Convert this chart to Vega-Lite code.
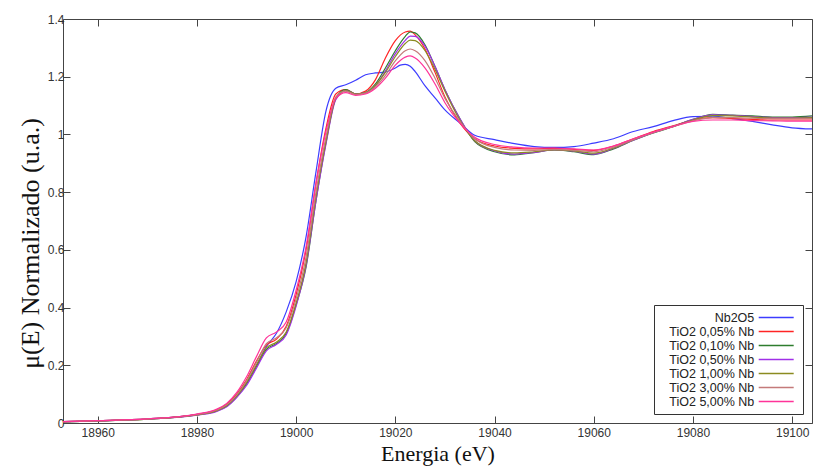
{
  "$schema": "https://vega.github.io/schema/vega-lite/v6.json",
  "width": 749,
  "height": 404,
  "autosize": "none",
  "padding": {"left": 63, "top": 19, "right": 2, "bottom": 44},
  "background": "white",
  "config": {
    "view": {"stroke": "#444", "strokeWidth": 1},
    "axis": {
      "domain": false,
      "grid": false,
      "tickColor": "#444",
      "tickSize": -7,
      "labelFont": "Liberation Sans",
      "labelFontSize": 12,
      "labelColor": "#333",
      "titleFont": "Liberation Serif",
      "titleFontSize": 22,
      "titleFontWeight": "normal",
      "titleColor": "#111"
    }
  },
  "data": {"values": [
    {"s":"Nb2O5","E":18953,"mu":0.005},{"s":"Nb2O5","E":18960,"mu":0.008},{"s":"Nb2O5","E":18970,"mu":0.014},{"s":"Nb2O5","E":18980,"mu":0.03},{"s":"Nb2O5","E":18984,"mu":0.045},{"s":"Nb2O5","E":18986,"mu":0.063},{"s":"Nb2O5","E":18988,"mu":0.095},{"s":"Nb2O5","E":18990,"mu":0.14},{"s":"Nb2O5","E":18992,"mu":0.2},{"s":"Nb2O5","E":18994,"mu":0.265},{"s":"Nb2O5","E":18996,"mu":0.31},{"s":"Nb2O5","E":18998,"mu":0.385},{"s":"Nb2O5","E":19000,"mu":0.49},{"s":"Nb2O5","E":19002,"mu":0.645},{"s":"Nb2O5","E":19004,"mu":0.87},{"s":"Nb2O5","E":19006,"mu":1.08},{"s":"Nb2O5","E":19008,"mu":1.16},{"s":"Nb2O5","E":19010,"mu":1.172},{"s":"Nb2O5","E":19012,"mu":1.188},{"s":"Nb2O5","E":19014,"mu":1.207},{"s":"Nb2O5","E":19016,"mu":1.213},{"s":"Nb2O5","E":19018,"mu":1.216},{"s":"Nb2O5","E":19020,"mu":1.23},{"s":"Nb2O5","E":19021,"mu":1.24},{"s":"Nb2O5","E":19022,"mu":1.243},{"s":"Nb2O5","E":19023,"mu":1.236},{"s":"Nb2O5","E":19024,"mu":1.218},{"s":"Nb2O5","E":19026,"mu":1.168},{"s":"Nb2O5","E":19028,"mu":1.127},{"s":"Nb2O5","E":19030,"mu":1.085},{"s":"Nb2O5","E":19033,"mu":1.04},{"s":"Nb2O5","E":19036,"mu":0.997},{"s":"Nb2O5","E":19040,"mu":0.982},{"s":"Nb2O5","E":19044,"mu":0.968},{"s":"Nb2O5","E":19048,"mu":0.958},{"s":"Nb2O5","E":19052,"mu":0.955},{"s":"Nb2O5","E":19056,"mu":0.958},{"s":"Nb2O5","E":19060,"mu":0.97},{"s":"Nb2O5","E":19064,"mu":0.985},{"s":"Nb2O5","E":19068,"mu":1.01},{"s":"Nb2O5","E":19072,"mu":1.027},{"s":"Nb2O5","E":19076,"mu":1.048},{"s":"Nb2O5","E":19080,"mu":1.062},{"s":"Nb2O5","E":19084,"mu":1.063},{"s":"Nb2O5","E":19088,"mu":1.055},{"s":"Nb2O5","E":19092,"mu":1.045},{"s":"Nb2O5","E":19096,"mu":1.033},{"s":"Nb2O5","E":19100,"mu":1.023},{"s":"Nb2O5","E":19104,"mu":1.019},

    {"s":"TiO2 0,05% Nb","E":18953,"mu":0.005},{"s":"TiO2 0,05% Nb","E":18960,"mu":0.008},{"s":"TiO2 0,05% Nb","E":18970,"mu":0.014},{"s":"TiO2 0,05% Nb","E":18980,"mu":0.03},{"s":"TiO2 0,05% Nb","E":18984,"mu":0.046},{"s":"TiO2 0,05% Nb","E":18986,"mu":0.065},{"s":"TiO2 0,05% Nb","E":18988,"mu":0.1},{"s":"TiO2 0,05% Nb","E":18990,"mu":0.15},{"s":"TiO2 0,05% Nb","E":18992,"mu":0.215},{"s":"TiO2 0,05% Nb","E":18994,"mu":0.27},{"s":"TiO2 0,05% Nb","E":18996,"mu":0.29},{"s":"TiO2 0,05% Nb","E":18998,"mu":0.335},{"s":"TiO2 0,05% Nb","E":19000,"mu":0.445},{"s":"TiO2 0,05% Nb","E":19002,"mu":0.6},{"s":"TiO2 0,05% Nb","E":19004,"mu":0.83},{"s":"TiO2 0,05% Nb","E":19006,"mu":1.02},{"s":"TiO2 0,05% Nb","E":19008,"mu":1.14},{"s":"TiO2 0,05% Nb","E":19010,"mu":1.155},{"s":"TiO2 0,05% Nb","E":19012,"mu":1.14},{"s":"TiO2 0,05% Nb","E":19014,"mu":1.15},{"s":"TiO2 0,05% Nb","E":19016,"mu":1.19},{"s":"TiO2 0,05% Nb","E":19018,"mu":1.265},{"s":"TiO2 0,05% Nb","E":19020,"mu":1.325},{"s":"TiO2 0,05% Nb","E":19022,"mu":1.355},{"s":"TiO2 0,05% Nb","E":19023,"mu":1.358},{"s":"TiO2 0,05% Nb","E":19024,"mu":1.345},{"s":"TiO2 0,05% Nb","E":19026,"mu":1.295},{"s":"TiO2 0,05% Nb","E":19028,"mu":1.215},{"s":"TiO2 0,05% Nb","E":19030,"mu":1.13},{"s":"TiO2 0,05% Nb","E":19033,"mu":1.04},{"s":"TiO2 0,05% Nb","E":19036,"mu":0.985},{"s":"TiO2 0,05% Nb","E":19040,"mu":0.96},{"s":"TiO2 0,05% Nb","E":19044,"mu":0.952},{"s":"TiO2 0,05% Nb","E":19048,"mu":0.95},{"s":"TiO2 0,05% Nb","E":19052,"mu":0.952},{"s":"TiO2 0,05% Nb","E":19056,"mu":0.948},{"s":"TiO2 0,05% Nb","E":19060,"mu":0.945},{"s":"TiO2 0,05% Nb","E":19064,"mu":0.96},{"s":"TiO2 0,05% Nb","E":19068,"mu":0.985},{"s":"TiO2 0,05% Nb","E":19072,"mu":1.01},{"s":"TiO2 0,05% Nb","E":19076,"mu":1.03},{"s":"TiO2 0,05% Nb","E":19080,"mu":1.05},{"s":"TiO2 0,05% Nb","E":19084,"mu":1.058},{"s":"TiO2 0,05% Nb","E":19088,"mu":1.055},{"s":"TiO2 0,05% Nb","E":19092,"mu":1.052},{"s":"TiO2 0,05% Nb","E":19096,"mu":1.05},{"s":"TiO2 0,05% Nb","E":19100,"mu":1.05},{"s":"TiO2 0,05% Nb","E":19104,"mu":1.05},

    {"s":"TiO2 0,10% Nb","E":18953,"mu":0.004},{"s":"TiO2 0,10% Nb","E":18960,"mu":0.007},{"s":"TiO2 0,10% Nb","E":18970,"mu":0.013},{"s":"TiO2 0,10% Nb","E":18980,"mu":0.028},{"s":"TiO2 0,10% Nb","E":18984,"mu":0.042},{"s":"TiO2 0,10% Nb","E":18986,"mu":0.058},{"s":"TiO2 0,10% Nb","E":18988,"mu":0.09},{"s":"TiO2 0,10% Nb","E":18990,"mu":0.135},{"s":"TiO2 0,10% Nb","E":18992,"mu":0.195},{"s":"TiO2 0,10% Nb","E":18994,"mu":0.255},{"s":"TiO2 0,10% Nb","E":18996,"mu":0.275},{"s":"TiO2 0,10% Nb","E":18998,"mu":0.31},{"s":"TiO2 0,10% Nb","E":19000,"mu":0.41},{"s":"TiO2 0,10% Nb","E":19002,"mu":0.54},{"s":"TiO2 0,10% Nb","E":19004,"mu":0.77},{"s":"TiO2 0,10% Nb","E":19006,"mu":0.97},{"s":"TiO2 0,10% Nb","E":19008,"mu":1.125},{"s":"TiO2 0,10% Nb","E":19010,"mu":1.155},{"s":"TiO2 0,10% Nb","E":19012,"mu":1.14},{"s":"TiO2 0,10% Nb","E":19014,"mu":1.145},{"s":"TiO2 0,10% Nb","E":19016,"mu":1.175},{"s":"TiO2 0,10% Nb","E":19018,"mu":1.23},{"s":"TiO2 0,10% Nb","E":19020,"mu":1.29},{"s":"TiO2 0,10% Nb","E":19022,"mu":1.34},{"s":"TiO2 0,10% Nb","E":19023,"mu":1.355},{"s":"TiO2 0,10% Nb","E":19024,"mu":1.352},{"s":"TiO2 0,10% Nb","E":19026,"mu":1.31},{"s":"TiO2 0,10% Nb","E":19028,"mu":1.235},{"s":"TiO2 0,10% Nb","E":19030,"mu":1.155},{"s":"TiO2 0,10% Nb","E":19033,"mu":1.055},{"s":"TiO2 0,10% Nb","E":19036,"mu":0.975},{"s":"TiO2 0,10% Nb","E":19040,"mu":0.94},{"s":"TiO2 0,10% Nb","E":19044,"mu":0.929},{"s":"TiO2 0,10% Nb","E":19048,"mu":0.937},{"s":"TiO2 0,10% Nb","E":19052,"mu":0.946},{"s":"TiO2 0,10% Nb","E":19056,"mu":0.94},{"s":"TiO2 0,10% Nb","E":19060,"mu":0.93},{"s":"TiO2 0,10% Nb","E":19064,"mu":0.95},{"s":"TiO2 0,10% Nb","E":19068,"mu":0.98},{"s":"TiO2 0,10% Nb","E":19072,"mu":1.005},{"s":"TiO2 0,10% Nb","E":19076,"mu":1.027},{"s":"TiO2 0,10% Nb","E":19080,"mu":1.052},{"s":"TiO2 0,10% Nb","E":19084,"mu":1.07},{"s":"TiO2 0,10% Nb","E":19088,"mu":1.067},{"s":"TiO2 0,10% Nb","E":19092,"mu":1.064},{"s":"TiO2 0,10% Nb","E":19096,"mu":1.06},{"s":"TiO2 0,10% Nb","E":19100,"mu":1.06},{"s":"TiO2 0,10% Nb","E":19104,"mu":1.064},

    {"s":"TiO2 0,50% Nb","E":18953,"mu":0.004},{"s":"TiO2 0,50% Nb","E":18960,"mu":0.007},{"s":"TiO2 0,50% Nb","E":18970,"mu":0.013},{"s":"TiO2 0,50% Nb","E":18980,"mu":0.027},{"s":"TiO2 0,50% Nb","E":18984,"mu":0.04},{"s":"TiO2 0,50% Nb","E":18986,"mu":0.056},{"s":"TiO2 0,50% Nb","E":18988,"mu":0.088},{"s":"TiO2 0,50% Nb","E":18990,"mu":0.13},{"s":"TiO2 0,50% Nb","E":18992,"mu":0.19},{"s":"TiO2 0,50% Nb","E":18994,"mu":0.25},{"s":"TiO2 0,50% Nb","E":18996,"mu":0.272},{"s":"TiO2 0,50% Nb","E":18998,"mu":0.305},{"s":"TiO2 0,50% Nb","E":19000,"mu":0.405},{"s":"TiO2 0,50% Nb","E":19002,"mu":0.545},{"s":"TiO2 0,50% Nb","E":19004,"mu":0.77},{"s":"TiO2 0,50% Nb","E":19006,"mu":0.965},{"s":"TiO2 0,50% Nb","E":19008,"mu":1.12},{"s":"TiO2 0,50% Nb","E":19010,"mu":1.152},{"s":"TiO2 0,50% Nb","E":19012,"mu":1.14},{"s":"TiO2 0,50% Nb","E":19014,"mu":1.145},{"s":"TiO2 0,50% Nb","E":19016,"mu":1.17},{"s":"TiO2 0,50% Nb","E":19018,"mu":1.22},{"s":"TiO2 0,50% Nb","E":19020,"mu":1.28},{"s":"TiO2 0,50% Nb","E":19022,"mu":1.326},{"s":"TiO2 0,50% Nb","E":19023,"mu":1.341},{"s":"TiO2 0,50% Nb","E":19024,"mu":1.34},{"s":"TiO2 0,50% Nb","E":19026,"mu":1.305},{"s":"TiO2 0,50% Nb","E":19028,"mu":1.235},{"s":"TiO2 0,50% Nb","E":19030,"mu":1.155},{"s":"TiO2 0,50% Nb","E":19033,"mu":1.055},{"s":"TiO2 0,50% Nb","E":19036,"mu":0.978},{"s":"TiO2 0,50% Nb","E":19040,"mu":0.943},{"s":"TiO2 0,50% Nb","E":19044,"mu":0.932},{"s":"TiO2 0,50% Nb","E":19048,"mu":0.938},{"s":"TiO2 0,50% Nb","E":19052,"mu":0.946},{"s":"TiO2 0,50% Nb","E":19056,"mu":0.942},{"s":"TiO2 0,50% Nb","E":19060,"mu":0.932},{"s":"TiO2 0,50% Nb","E":19064,"mu":0.952},{"s":"TiO2 0,50% Nb","E":19068,"mu":0.98},{"s":"TiO2 0,50% Nb","E":19072,"mu":1.006},{"s":"TiO2 0,50% Nb","E":19076,"mu":1.028},{"s":"TiO2 0,50% Nb","E":19080,"mu":1.052},{"s":"TiO2 0,50% Nb","E":19084,"mu":1.068},{"s":"TiO2 0,50% Nb","E":19088,"mu":1.066},{"s":"TiO2 0,50% Nb","E":19092,"mu":1.062},{"s":"TiO2 0,50% Nb","E":19096,"mu":1.058},{"s":"TiO2 0,50% Nb","E":19100,"mu":1.058},{"s":"TiO2 0,50% Nb","E":19104,"mu":1.06},

    {"s":"TiO2 1,00% Nb","E":18953,"mu":0.004},{"s":"TiO2 1,00% Nb","E":18960,"mu":0.007},{"s":"TiO2 1,00% Nb","E":18970,"mu":0.013},{"s":"TiO2 1,00% Nb","E":18980,"mu":0.028},{"s":"TiO2 1,00% Nb","E":18984,"mu":0.043},{"s":"TiO2 1,00% Nb","E":18986,"mu":0.06},{"s":"TiO2 1,00% Nb","E":18988,"mu":0.093},{"s":"TiO2 1,00% Nb","E":18990,"mu":0.14},{"s":"TiO2 1,00% Nb","E":18992,"mu":0.2},{"s":"TiO2 1,00% Nb","E":18994,"mu":0.26},{"s":"TiO2 1,00% Nb","E":18996,"mu":0.28},{"s":"TiO2 1,00% Nb","E":18998,"mu":0.315},{"s":"TiO2 1,00% Nb","E":19000,"mu":0.415},{"s":"TiO2 1,00% Nb","E":19002,"mu":0.555},{"s":"TiO2 1,00% Nb","E":19004,"mu":0.785},{"s":"TiO2 1,00% Nb","E":19006,"mu":0.975},{"s":"TiO2 1,00% Nb","E":19008,"mu":1.125},{"s":"TiO2 1,00% Nb","E":19010,"mu":1.152},{"s":"TiO2 1,00% Nb","E":19012,"mu":1.14},{"s":"TiO2 1,00% Nb","E":19014,"mu":1.145},{"s":"TiO2 1,00% Nb","E":19016,"mu":1.17},{"s":"TiO2 1,00% Nb","E":19018,"mu":1.215},{"s":"TiO2 1,00% Nb","E":19020,"mu":1.27},{"s":"TiO2 1,00% Nb","E":19022,"mu":1.315},{"s":"TiO2 1,00% Nb","E":19023,"mu":1.327},{"s":"TiO2 1,00% Nb","E":19024,"mu":1.325},{"s":"TiO2 1,00% Nb","E":19026,"mu":1.29},{"s":"TiO2 1,00% Nb","E":19028,"mu":1.225},{"s":"TiO2 1,00% Nb","E":19030,"mu":1.15},{"s":"TiO2 1,00% Nb","E":19033,"mu":1.05},{"s":"TiO2 1,00% Nb","E":19036,"mu":0.978},{"s":"TiO2 1,00% Nb","E":19040,"mu":0.945},{"s":"TiO2 1,00% Nb","E":19044,"mu":0.936},{"s":"TiO2 1,00% Nb","E":19048,"mu":0.94},{"s":"TiO2 1,00% Nb","E":19052,"mu":0.946},{"s":"TiO2 1,00% Nb","E":19056,"mu":0.943},{"s":"TiO2 1,00% Nb","E":19060,"mu":0.935},{"s":"TiO2 1,00% Nb","E":19064,"mu":0.953},{"s":"TiO2 1,00% Nb","E":19068,"mu":0.982},{"s":"TiO2 1,00% Nb","E":19072,"mu":1.007},{"s":"TiO2 1,00% Nb","E":19076,"mu":1.028},{"s":"TiO2 1,00% Nb","E":19080,"mu":1.05},{"s":"TiO2 1,00% Nb","E":19084,"mu":1.065},{"s":"TiO2 1,00% Nb","E":19088,"mu":1.064},{"s":"TiO2 1,00% Nb","E":19092,"mu":1.06},{"s":"TiO2 1,00% Nb","E":19096,"mu":1.057},{"s":"TiO2 1,00% Nb","E":19100,"mu":1.057},{"s":"TiO2 1,00% Nb","E":19104,"mu":1.058},

    {"s":"TiO2 3,00% Nb","E":18953,"mu":0.005},{"s":"TiO2 3,00% Nb","E":18960,"mu":0.008},{"s":"TiO2 3,00% Nb","E":18970,"mu":0.014},{"s":"TiO2 3,00% Nb","E":18980,"mu":0.029},{"s":"TiO2 3,00% Nb","E":18984,"mu":0.045},{"s":"TiO2 3,00% Nb","E":18986,"mu":0.063},{"s":"TiO2 3,00% Nb","E":18988,"mu":0.097},{"s":"TiO2 3,00% Nb","E":18990,"mu":0.146},{"s":"TiO2 3,00% Nb","E":18992,"mu":0.21},{"s":"TiO2 3,00% Nb","E":18994,"mu":0.275},{"s":"TiO2 3,00% Nb","E":18996,"mu":0.295},{"s":"TiO2 3,00% Nb","E":18998,"mu":0.33},{"s":"TiO2 3,00% Nb","E":19000,"mu":0.43},{"s":"TiO2 3,00% Nb","E":19002,"mu":0.575},{"s":"TiO2 3,00% Nb","E":19004,"mu":0.8},{"s":"TiO2 3,00% Nb","E":19006,"mu":0.99},{"s":"TiO2 3,00% Nb","E":19008,"mu":1.13},{"s":"TiO2 3,00% Nb","E":19010,"mu":1.15},{"s":"TiO2 3,00% Nb","E":19012,"mu":1.138},{"s":"TiO2 3,00% Nb","E":19014,"mu":1.143},{"s":"TiO2 3,00% Nb","E":19016,"mu":1.165},{"s":"TiO2 3,00% Nb","E":19018,"mu":1.205},{"s":"TiO2 3,00% Nb","E":19020,"mu":1.255},{"s":"TiO2 3,00% Nb","E":19022,"mu":1.29},{"s":"TiO2 3,00% Nb","E":19023,"mu":1.296},{"s":"TiO2 3,00% Nb","E":19024,"mu":1.29},{"s":"TiO2 3,00% Nb","E":19026,"mu":1.255},{"s":"TiO2 3,00% Nb","E":19028,"mu":1.195},{"s":"TiO2 3,00% Nb","E":19030,"mu":1.125},{"s":"TiO2 3,00% Nb","E":19033,"mu":1.045},{"s":"TiO2 3,00% Nb","E":19036,"mu":0.985},{"s":"TiO2 3,00% Nb","E":19040,"mu":0.955},{"s":"TiO2 3,00% Nb","E":19044,"mu":0.946},{"s":"TiO2 3,00% Nb","E":19048,"mu":0.945},{"s":"TiO2 3,00% Nb","E":19052,"mu":0.948},{"s":"TiO2 3,00% Nb","E":19056,"mu":0.945},{"s":"TiO2 3,00% Nb","E":19060,"mu":0.94},{"s":"TiO2 3,00% Nb","E":19064,"mu":0.956},{"s":"TiO2 3,00% Nb","E":19068,"mu":0.982},{"s":"TiO2 3,00% Nb","E":19072,"mu":1.006},{"s":"TiO2 3,00% Nb","E":19076,"mu":1.027},{"s":"TiO2 3,00% Nb","E":19080,"mu":1.047},{"s":"TiO2 3,00% Nb","E":19084,"mu":1.058},{"s":"TiO2 3,00% Nb","E":19088,"mu":1.058},{"s":"TiO2 3,00% Nb","E":19092,"mu":1.056},{"s":"TiO2 3,00% Nb","E":19096,"mu":1.055},{"s":"TiO2 3,00% Nb","E":19100,"mu":1.055},{"s":"TiO2 3,00% Nb","E":19104,"mu":1.055},

    {"s":"TiO2 5,00% Nb","E":18953,"mu":0.005},{"s":"TiO2 5,00% Nb","E":18960,"mu":0.008},{"s":"TiO2 5,00% Nb","E":18970,"mu":0.014},{"s":"TiO2 5,00% Nb","E":18980,"mu":0.031},{"s":"TiO2 5,00% Nb","E":18984,"mu":0.048},{"s":"TiO2 5,00% Nb","E":18986,"mu":0.068},{"s":"TiO2 5,00% Nb","E":18988,"mu":0.105},{"s":"TiO2 5,00% Nb","E":18990,"mu":0.16},{"s":"TiO2 5,00% Nb","E":18992,"mu":0.23},{"s":"TiO2 5,00% Nb","E":18994,"mu":0.295},{"s":"TiO2 5,00% Nb","E":18996,"mu":0.315},{"s":"TiO2 5,00% Nb","E":18998,"mu":0.35},{"s":"TiO2 5,00% Nb","E":19000,"mu":0.46},{"s":"TiO2 5,00% Nb","E":19002,"mu":0.61},{"s":"TiO2 5,00% Nb","E":19004,"mu":0.83},{"s":"TiO2 5,00% Nb","E":19006,"mu":1.01},{"s":"TiO2 5,00% Nb","E":19008,"mu":1.125},{"s":"TiO2 5,00% Nb","E":19010,"mu":1.145},{"s":"TiO2 5,00% Nb","E":19012,"mu":1.135},{"s":"TiO2 5,00% Nb","E":19014,"mu":1.14},{"s":"TiO2 5,00% Nb","E":19016,"mu":1.16},{"s":"TiO2 5,00% Nb","E":19018,"mu":1.195},{"s":"TiO2 5,00% Nb","E":19020,"mu":1.24},{"s":"TiO2 5,00% Nb","E":19022,"mu":1.268},{"s":"TiO2 5,00% Nb","E":19023,"mu":1.272},{"s":"TiO2 5,00% Nb","E":19024,"mu":1.265},{"s":"TiO2 5,00% Nb","E":19026,"mu":1.23},{"s":"TiO2 5,00% Nb","E":19028,"mu":1.175},{"s":"TiO2 5,00% Nb","E":19030,"mu":1.11},{"s":"TiO2 5,00% Nb","E":19033,"mu":1.04},{"s":"TiO2 5,00% Nb","E":19036,"mu":0.99},{"s":"TiO2 5,00% Nb","E":19040,"mu":0.965},{"s":"TiO2 5,00% Nb","E":19044,"mu":0.956},{"s":"TiO2 5,00% Nb","E":19048,"mu":0.953},{"s":"TiO2 5,00% Nb","E":19052,"mu":0.953},{"s":"TiO2 5,00% Nb","E":19056,"mu":0.95},{"s":"TiO2 5,00% Nb","E":19060,"mu":0.946},{"s":"TiO2 5,00% Nb","E":19064,"mu":0.96},{"s":"TiO2 5,00% Nb","E":19068,"mu":0.985},{"s":"TiO2 5,00% Nb","E":19072,"mu":1.008},{"s":"TiO2 5,00% Nb","E":19076,"mu":1.028},{"s":"TiO2 5,00% Nb","E":19080,"mu":1.045},{"s":"TiO2 5,00% Nb","E":19084,"mu":1.05},{"s":"TiO2 5,00% Nb","E":19088,"mu":1.05},{"s":"TiO2 5,00% Nb","E":19092,"mu":1.048},{"s":"TiO2 5,00% Nb","E":19096,"mu":1.047},{"s":"TiO2 5,00% Nb","E":19100,"mu":1.046},{"s":"TiO2 5,00% Nb","E":19104,"mu":1.046}
  ]},
  "layer": [
    {
      "mark": {"type": "line", "strokeWidth": 1.2, "interpolate": "monotone", "clip": true},
      "encoding": {
        "x": {"field": "E", "type": "quantitative",
              "scale": {"domain": [18953, 19104], "nice": false, "zero": false},
              "axis": {"orient": "bottom", "values": [18960, 18980, 19000, 19020, 19040, 19060, 19080, 19100], "format": "d", "title": "Energia (eV)", "labelPadding": 11, "titlePadding": 5}},
        "y": {"field": "mu", "type": "quantitative",
              "scale": {"domain": [0, 1.4], "nice": false},
              "axis": {"orient": "left", "values": [0, 0.2, 0.4, 0.6, 0.8, 1, 1.2, 1.4], "format": "~g", "title": "μ(E) Normalizado (u.a.)", "titleFontSize": 26, "titleY": 224, "labelPadding": 6, "titlePadding": 4}},
        "color": {"field": "s", "type": "nominal",
                  "scale": {"domain": ["Nb2O5", "TiO2 0,05% Nb", "TiO2 0,10% Nb", "TiO2 0,50% Nb", "TiO2 1,00% Nb", "TiO2 3,00% Nb", "TiO2 5,00% Nb"],
                            "range": ["#3c3cff", "#ff2424", "#2e7d2e", "#a030e8", "#8b8b20", "#c47a7a", "#ff3399"]},
                  "legend": {"orient": "bottom-right", "offset": 9, "title": null, "symbolType": "M-3,0L3,0", "symbolSize": 136, "symbolStrokeWidth": 1.3,
                             "symbolOffset": 109.7, "labelAlign": "right", "labelOffset": -28.4, "labelFont": "Liberation Sans", "labelFontSize": 12.5, "labelColor": "#222",
                             "strokeColor": "#333", "fillColor": "white", "padding": 6, "rowPadding": 1, "cornerRadius": 0}}
      }
    },
    {
      "mark": {"type": "line", "opacity": 0},
      "encoding": {
        "x": {"field": "E", "type": "quantitative",
              "axis": {"orient": "top", "values": [18960, 18980, 19000, 19020, 19040, 19060, 19080, 19100], "labels": false, "title": null}},
        "y": {"field": "mu", "type": "quantitative",
              "axis": {"orient": "right", "values": [0, 0.2, 0.4, 0.6, 0.8, 1, 1.2, 1.4], "labels": false, "title": null}},
        "detail": {"field": "s"}
      }
    }
  ],
  "resolve": {"axis": {"x": "independent", "y": "independent"}}
}
